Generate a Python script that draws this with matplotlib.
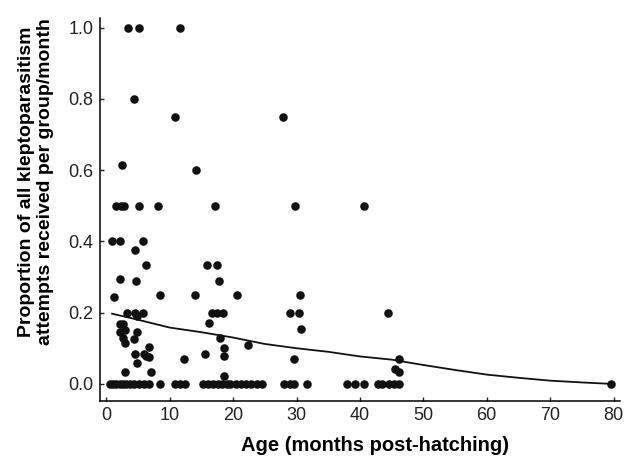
import matplotlib
matplotlib.use('Agg')
import matplotlib.pyplot as plt

plt.rcParams['font.family'] = ['Liberation Sans', 'DejaVu Sans']

age = [3.45, 5.2, 11.6,
       4.3,
       10.8, 27.8,
       2.5, 14.2,
       1.6, 2.3, 2.8, 5.1, 8.2, 17.1, 29.8, 40.6,
       0.86, 2.2, 5.8,
       4.6,
       6.2, 15.9, 17.4,
       2.2, 4.7, 17.8,
       1.2, 8.4, 14.0, 20.6, 30.5,
       3.2, 4.5, 4.9, 5.8, 16.6, 17.4, 18.4, 28.9, 30.4, 44.4,
       16.2, 2.1, 2.6,
       2.2, 2.9, 4.8, 30.7,
       2.6, 4.3, 18.0,
       2.9, 22.4,
       6.8, 18.6,
       4.6, 5.9, 15.6, 6.3, 18.5, 6.7,
       12.3, 29.6, 46.2,
       4.9,
       45.5, 46.2,
       2.9, 7.1,
       18.5,
       0.6, 1.1, 1.6, 2.1, 2.6, 3.1, 3.7, 4.4, 5.2, 5.9, 6.7, 8.5,
       10.8, 11.6, 12.4, 15.3, 16.1, 16.9, 17.6, 18.2, 19.0, 19.5,
       20.5, 21.3, 22.0, 22.8, 23.8, 24.6, 28.1, 28.9, 29.6, 31.7,
       38.0, 39.2, 40.6, 42.8, 43.5, 44.6, 45.3, 46.1, 79.6]
prop = [1.0, 1.0, 1.0,
        0.8,
        0.75, 0.75,
        0.615, 0.6,
        0.5, 0.5, 0.5, 0.5, 0.5, 0.5, 0.5, 0.5,
        0.4, 0.4, 0.4,
        0.377,
        0.333, 0.333, 0.333,
        0.294, 0.288, 0.288,
        0.245, 0.25, 0.25, 0.25, 0.25,
        0.2, 0.2, 0.19, 0.2, 0.2, 0.2, 0.2, 0.2, 0.2, 0.2,
        0.17, 0.169, 0.169,
        0.146, 0.15, 0.145, 0.153,
        0.13, 0.127, 0.128,
        0.114, 0.11,
        0.103, 0.101,
        0.085, 0.085, 0.085, 0.078, 0.078, 0.076,
        0.07, 0.07, 0.07,
        0.059,
        0.042, 0.033,
        0.034, 0.034,
        0.022,
        0, 0, 0, 0, 0, 0, 0, 0, 0, 0, 0, 0,
        0, 0, 0, 0, 0, 0, 0, 0, 0, 0,
        0, 0, 0, 0, 0, 0, 0, 0, 0, 0,
        0, 0, 0, 0, 0, 0, 0, 0, 0]

# fitted curve
fit_age = [0.9, 5, 10, 15, 20, 25, 30, 35, 40, 45, 50, 55, 60, 65, 70, 75, 79.6]
fit_prop = [0.197, 0.18, 0.158, 0.145, 0.130, 0.112, 0.100, 0.090, 0.077,
            0.068, 0.053, 0.039, 0.026, 0.017, 0.009, 0.004, 0.0]

fig = plt.figure(figsize=(6.41, 4.63), dpi=100)
ax = fig.add_axes([0.156, 0.134, 0.811, 0.827])

ax.scatter(age, prop, s=38, color='#111111', zorder=3, linewidths=0)
ax.plot(fit_age, fit_prop, color='#111111', linewidth=1.3, zorder=2)

ax.set_xlim(-1, 81)
ax.set_ylim(-0.048, 1.027)
ax.set_xticks(range(0, 81, 10))
ax.set_yticks([0.0, 0.2, 0.4, 0.6, 0.8, 1.0])
ax.set_yticklabels(['0.0', '0.2', '0.4', '0.6', '0.8', '1.0'])

for s in ['top', 'right']:
    ax.spines[s].set_visible(False)
for s in ['left', 'bottom']:
    ax.spines[s].set_linewidth(1.1)
ax.tick_params(direction='in', length=3, width=1, labelsize=13, pad=4.5, colors='#222222')

ax.set_xlabel('Age (months post-hatching)', fontsize=14.5, fontweight='bold')
ax.xaxis.set_label_coords(0.529, -0.092)
ax.set_ylabel('Proportion of all kleptoparasitism\nattempts received per group/month',
              fontsize=14, fontweight='bold')
ax.yaxis.set_label_coords(-0.088, 0.572)

fig.savefig('out.png', dpi=100)
